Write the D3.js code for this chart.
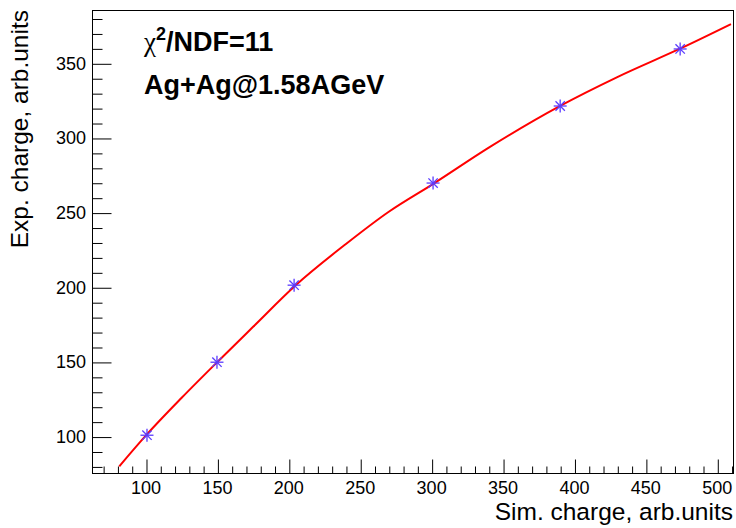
<!DOCTYPE html>
<html>
<head>
<meta charset="utf-8">
<script src="https://cdn.jsdelivr.net/npm/d3@7"></script>
<style>
  html, body { margin: 0; padding: 0; background: #fff; }
  svg { display: block; font-family: "Liberation Sans", Arial, Helvetica, sans-serif; }
</style>
</head>
<body>
<svg id="chart" width="736" height="528"></svg>
<script>
// ---- data ----
const pointX = [100.7, 149.7, 203.7, 301.0, 390.0, 474.0];
const pointY = [100.9, 149.8, 201.4, 269.8, 321.4, 359.6];
const fitX = [81.3, 100, 125, 150, 175, 205, 240, 270, 302, 340, 390, 430, 475, 509.6];
const fitY = [80.1, 100.8, 126, 150, 173.5, 201.5, 229, 250.6, 269.8, 293.5, 321.5, 340.8, 360.3, 376.3];
const xTicks = [100, 150, 200, 250, 300, 350, 400, 450, 500];
const yTicks = [100, 150, 200, 250, 300, 350];
const xDomain = [62.2, 511];
const yDomain = [75.6, 385.7];
const xTitle = "Sim. charge, arb.units";
const yTitle = "Exp. charge, arb.units";

// ---- layout ----
const frame = { left: 92, right: 733, top: 10, bottom: 473 };
const svg = d3.select("#chart");
const x = d3.scaleLinear().domain(xDomain).range([frame.left, frame.right]);
const y = d3.scaleLinear().domain(yDomain).range([frame.bottom, frame.top]);

// frame box
svg.append("rect")
  .attr("x", frame.left + 0.5).attr("y", frame.top + 0.5)
  .attr("width", frame.right - frame.left).attr("height", frame.bottom - frame.top)
  .attr("fill", "none").attr("stroke", "#000").attr("stroke-width", 1);

// minor tick values
const xMinor = d3.range(70, 511, 10).filter(v => v > xDomain[0] && v < xDomain[1] && !xTicks.includes(v));
const yMinor = d3.range(80, 386, 10).filter(v => v > yDomain[0] && v < yDomain[1] && !yTicks.includes(v));

// x axis
const xAxis = svg.append("g").attr("transform", `translate(0.5,${frame.bottom + 0.5})`)
  .call(d3.axisTop(x).tickValues(xTicks).tickSize(14).tickFormat(""));
xAxis.select(".domain").remove();
const xAxisMinor = svg.append("g").attr("transform", `translate(0.5,${frame.bottom + 0.5})`)
  .call(d3.axisTop(x).tickValues(xMinor).tickSize(7).tickFormat(""));
xAxisMinor.select(".domain").remove();
svg.append("g").selectAll("text").data(xTicks).join("text")
  .attr("x", d => x(d)).attr("y", 494)
  .attr("text-anchor", "middle").attr("font-size", 18).attr("fill", "#000")
  .text(d => d);

// y axis
const yAxis = svg.append("g").attr("transform", `translate(${frame.left + 0.5},0.5)`)
  .call(d3.axisRight(y).tickValues(yTicks).tickSize(19).tickFormat(""));
yAxis.select(".domain").remove();
const yAxisMinor = svg.append("g").attr("transform", `translate(${frame.left + 0.5},0.5)`)
  .call(d3.axisRight(y).tickValues(yMinor).tickSize(10).tickFormat(""));
yAxisMinor.select(".domain").remove();
svg.append("g").selectAll("text").data(yTicks).join("text")
  .attr("x", 86).attr("y", d => y(d) + 6.5)
  .attr("text-anchor", "end").attr("font-size", 18).attr("fill", "#000")
  .text(d => d);

svg.selectAll(".tick line").attr("stroke", "#000");

// axis titles
svg.append("text").attr("x", 733).attr("y", 520)
  .attr("text-anchor", "end").attr("font-size", 24.5).attr("fill", "#000").text(xTitle);
svg.append("text").attr("transform", "translate(28,10) rotate(-90)")
  .attr("text-anchor", "end").attr("font-size", 24.5).attr("fill", "#000").text(yTitle);

// fit curve
const fit = fitX.map((v, i) => [v, fitY[i]]);
svg.append("path").datum(fit)
  .attr("fill", "none").attr("stroke", "#ff0000").attr("stroke-width", 2)
  .attr("d", d3.line().x(d => x(d[0])).y(d => y(d[1])).curve(d3.curveMonotoneX));

// markers (asterisk)
const pts = pointX.map((v, i) => [v, pointY[i]]);
const r = 6.5;
const mk = svg.append("g").selectAll("g").data(pts).join("g")
  .attr("transform", d => `translate(${x(d[0])},${y(d[1])})`)
  .attr("stroke", "#5a3cff").attr("stroke-width", 1.3);
mk.append("line").attr("x1", -r).attr("x2", r).attr("y1", 0).attr("y2", 0);
mk.append("line").attr("x1", 0).attr("x2", 0).attr("y1", -r).attr("y2", r);
mk.append("line").attr("x1", -r * 0.72).attr("x2", r * 0.72).attr("y1", -r * 0.72).attr("y2", r * 0.72);
mk.append("line").attr("x1", -r * 0.72).attr("x2", r * 0.72).attr("y1", r * 0.72).attr("y2", -r * 0.72);

// labels
const t1 = svg.append("text").attr("x", 144).attr("y", 51).attr("font-size", 27).attr("fill", "#000");
t1.append("tspan").attr("font-family", "'Liberation Serif', 'DejaVu Serif', serif").text("χ");
t1.append("tspan").attr("font-weight", "bold").attr("font-size", 18).attr("dy", -11).text("2");
t1.append("tspan").attr("font-weight", "bold").attr("dy", 11).text("/NDF=11");
svg.append("text").attr("x", 144).attr("y", 94).attr("font-size", 27).attr("font-weight", "bold")
  .attr("fill", "#000").text("Ag+Ag@1.58AGeV");
</script>
</body>
</html>
